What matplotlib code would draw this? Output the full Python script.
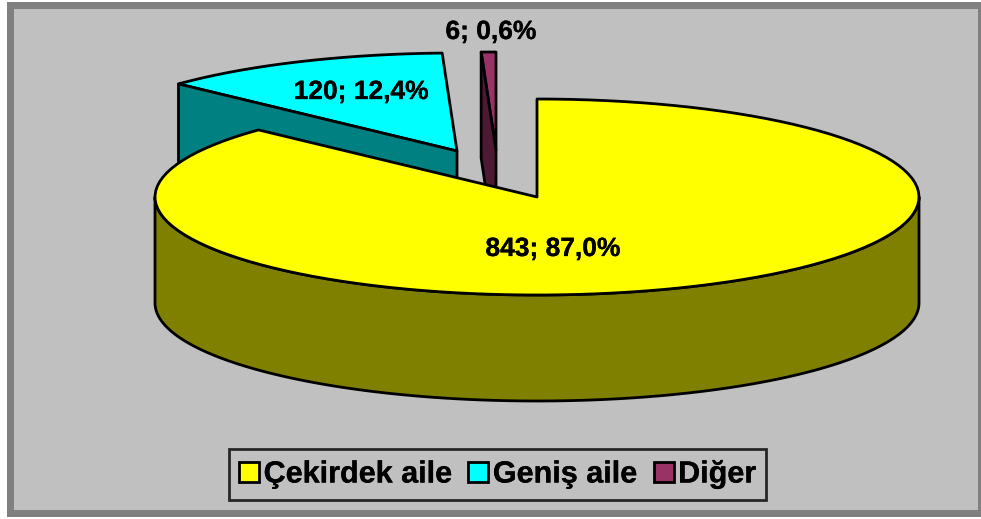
import numpy as np
import matplotlib
matplotlib.use("Agg")
import matplotlib.pyplot as plt
import matplotlib.patheffects as pe
from matplotlib.patches import Polygon, Rectangle, Patch

plt.rcParams['font.family'] = ['Liberation Sans', 'DejaVu Sans']

kategoriler = ['Çekirdek aile', 'Geniş aile', 'Diğer']
degerler = [843, 120, 6]
renk_ust = ['#ffff00', '#00ffff', '#993366']
renk_yan = ['#808000', '#008080', '#4d1933']

# geometry of the pie, in pixels
CX, CY = 537, 197
RX, RY = 382, 98
DERINLIK = 106
ACIKLIK = [(0, 0), (-80, -46), (-41, -47)]
ETIKET = [(553, 248), (361, 91), (491, 31)]
LW = 2.0


def yay(t1, t2, dx=0, dy=0, n=120):
    t = np.radians(np.linspace(t1, t2, n))
    return np.column_stack([CX + dx + RX * np.cos(t), CY + dy - RY * np.sin(t)])


def ciz(ax, noktalar, renk, z):
    ax.add_patch(Polygon(noktalar, closed=True, facecolor=renk, edgecolor='black',
                         linewidth=LW, joinstyle='round', zorder=z))


fig = plt.figure(figsize=(9.81, 5.19), dpi=100, facecolor='white')
ax = fig.add_axes([0, 0, 1, 1])
ax.set_xlim(0, 981)
ax.set_ylim(519, 0)
ax.axis('off')

# chart area with the thick grey frame
ax.add_patch(Rectangle((7, 2), 985, 515, facecolor='#808080', edgecolor='none', zorder=0))
ax.add_patch(Rectangle((14, 9), 964, 501, facecolor='#c0c0c0', edgecolor='none', zorder=1))

toplam = sum(degerler)
aci = 90.0
dilimler = []
for v in degerler:
    yeni = aci - v / toplam * 360
    dilimler.append((aci, yeni))
    aci = yeni

# back slices first, the big one covers them
for i in [2, 1, 0]:
    a1, a2 = dilimler[i]
    dx, dy = ACIKLIK[i]
    z = 10 + (2 - i) * 3
    merkez = np.array([[CX + dx, CY + dy]])
    ust = np.vstack([merkez, yay(a1, a2, dx, dy)])
    if i == 0:
        # outer wall, lower half of the ellipse only
        on = yay(180, 360)
        alt = yay(360, 180, 0, DERINLIK)
        ciz(ax, np.vstack([on, alt]), renk_yan[i], z)
        ciz(ax, ust, renk_ust[i], z + 1)
    else:
        # cut face on the left side of the slice
        kenar = yay(a1, a1, dx, dy, n=1)
        yuz = np.vstack([kenar, merkez, merkez + [0, DERINLIK], kenar + [0, DERINLIK]])
        ciz(ax, ust, renk_ust[i], z)
        ciz(ax, yuz, renk_yan[i], z + 1)

kalin = [pe.withStroke(linewidth=0.2, foreground='black')]
for i, v in enumerate(degerler):
    etiket = f"{v}; {v / toplam * 100:.1f}%".replace('.', ',')
    ax.text(ETIKET[i][0], ETIKET[i][1] + 1, etiket, ha='center', va='center',
            fontsize=19, fontweight='bold', color='black', zorder=30, path_effects=kalin)

tutamaclar = [Patch(facecolor=renk_ust[i], edgecolor='black', linewidth=LW, label=kategoriler[i])
              for i in range(3)]
leg = ax.legend(handles=tutamaclar, loc='center', bbox_to_anchor=(497.5 / 981, 1 - 474.5 / 519),
                ncol=3, frameon=True, fancybox=False, edgecolor='black', facecolor='none',
                framealpha=None, prop={'size': 22, 'weight': 'bold'}, handlelength=0.65,
                handleheight=0.65, handletextpad=0.15, columnspacing=0.55, borderpad=0.33,
                borderaxespad=0)
leg.get_frame().set_linewidth(LW)
leg.set_zorder(30)
for t in leg.get_texts():
    t.set_path_effects(kalin)

plt.savefig('out.png', dpi=100)
